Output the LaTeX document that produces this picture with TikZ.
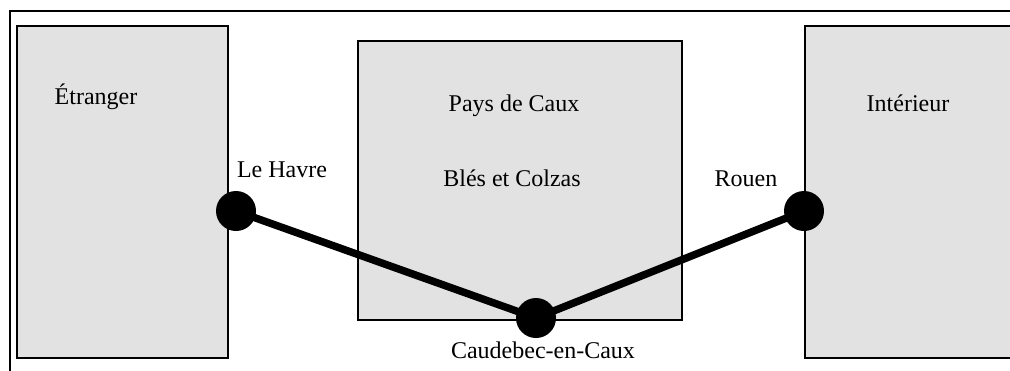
\documentclass[tikz,border=0pt]{standalone}
\usepackage{fontspec}
\setmainfont{Liberation Serif}
\begin{document}
\begin{tikzpicture}[x=1pt,y=-1pt,
  region/.style={draw=black,line width=2.8pt,fill=boxgray},
  city/.style={circle,fill=black,minimum size=40pt,inner sep=0pt},
  lab/.style={anchor=base,inner sep=0pt,font=\fontsize{24}{28}\selectfont},
  route/.style={line width=7.5pt}]
\definecolor{boxgray}{HTML}{E2E2E2}
\clip (0,0) rectangle (1010,370);
\fill[white] (0,0) rectangle (1010,370);
% outer frame (only top and left visible)
\draw[line width=2.2pt] (10,400) -- (10,11) -- (1030,11);
% regions
\draw[region] (17,26) rectangle (228,358);
\draw[region] (358,41) rectangle (682,320);
\draw[region] (805,26) rectangle (1040,358);
% labels
\node[lab] (etr) at (96,104) {Étranger};
\node[lab] (pays) at (514,111) {Pays de Caux};
\node[lab] (bles) at (512,186) {Blés et Colzas};
\node[lab] (int) at (908,111) {Intérieur};
% cities
\node[city] (havre) at (236,211) {};
\node[city] (cb) at (536,318) {};
\node[city] (rouen) at (804,211) {};
\draw[route] (havre.center) -- (cb.center) -- (rouen.center);
\node[lab] (lh) at (282,177) {Le Havre};
\node[lab] (ro) at (746,186) {Rouen};
\node[lab] (cbl) at (543,358) {Caudebec-en-Caux};
\end{tikzpicture}
\end{document}
